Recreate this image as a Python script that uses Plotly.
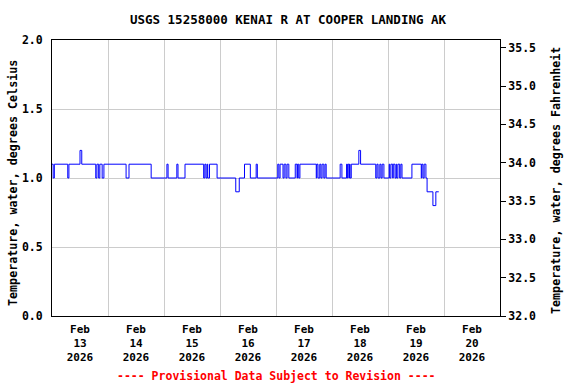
import plotly.graph_objects as go

# Water temperature change points (time, degrees C)
times = [
    "2026-02-13 00:00", "2026-02-13 00:30", "2026-02-13 01:00", "2026-02-13 06:45", "2026-02-13 07:15",
    "2026-02-13 12:00", "2026-02-13 12:45", "2026-02-13 18:45", "2026-02-13 19:15", "2026-02-13 20:00",
    "2026-02-13 20:30", "2026-02-13 21:30", "2026-02-13 22:15", "2026-02-14 07:45", "2026-02-14 09:00",
    "2026-02-14 18:30", "2026-02-15 01:15", "2026-02-15 01:45", "2026-02-15 05:30", "2026-02-15 06:00",
    "2026-02-15 09:00", "2026-02-15 17:00", "2026-02-15 17:30", "2026-02-15 18:00", "2026-02-15 18:30",
    "2026-02-15 18:45", "2026-02-15 19:30", "2026-02-15 22:45", "2026-02-16 06:45", "2026-02-16 08:15",
    "2026-02-16 10:30", "2026-02-16 13:00", "2026-02-16 15:30", "2026-02-16 16:00", "2026-02-17 00:45",
    "2026-02-17 01:15", "2026-02-17 01:45", "2026-02-17 03:00", "2026-02-17 03:30", "2026-02-17 04:15",
    "2026-02-17 04:45", "2026-02-17 05:30", "2026-02-17 08:15", "2026-02-17 09:00", "2026-02-17 09:15",
    "2026-02-17 09:45", "2026-02-17 10:15", "2026-02-17 17:15", "2026-02-17 17:30", "2026-02-17 18:00",
    "2026-02-17 18:45", "2026-02-17 19:15", "2026-02-17 19:45", "2026-02-17 20:30", "2026-02-17 21:00",
    "2026-02-17 21:30", "2026-02-18 03:30", "2026-02-18 04:15", "2026-02-18 06:15", "2026-02-18 06:30",
    "2026-02-18 06:45", "2026-02-18 07:15", "2026-02-18 07:30", "2026-02-18 07:45", "2026-02-18 08:15",
    "2026-02-18 11:30", "2026-02-18 12:15", "2026-02-18 18:45", "2026-02-18 19:15", "2026-02-18 19:45",
    "2026-02-18 20:30", "2026-02-18 21:00", "2026-02-18 21:30", "2026-02-18 22:15", "2026-02-19 00:30",
    "2026-02-19 00:45", "2026-02-19 01:15", "2026-02-19 02:00", "2026-02-19 02:15", "2026-02-19 03:00",
    "2026-02-19 03:30", "2026-02-19 03:45", "2026-02-19 04:15", "2026-02-19 05:00", "2026-02-19 05:30",
    "2026-02-19 06:00", "2026-02-19 10:15", "2026-02-19 14:15", "2026-02-19 14:30", "2026-02-19 15:00",
    "2026-02-19 15:30", "2026-02-19 16:15", "2026-02-19 16:45", "2026-02-19 19:15", "2026-02-19 20:30",
    "2026-02-19 21:45",
]
temps_c = [
    1.1, 1.0, 1.1, 1.0, 1.1,
    1.2, 1.1, 1.0, 1.1, 1.0,
    1.1, 1.0, 1.1, 1.0, 1.1,
    1.0, 1.1, 1.0, 1.1, 1.0,
    1.1, 1.0, 1.1, 1.0, 1.1,
    1.0, 1.1, 1.0, 0.9, 1.0,
    1.1, 1.0, 1.1, 1.0, 1.1,
    1.0, 1.1, 1.0, 1.1, 1.0,
    1.1, 1.0, 1.1, 1.0, 1.1,
    1.0, 1.1, 1.0, 1.1, 1.0,
    1.1, 1.0, 1.1, 1.0, 1.1,
    1.0, 1.1, 1.0, 1.1, 1.0,
    1.1, 1.0, 1.1, 1.0, 1.1,
    1.2, 1.1, 1.0, 1.1, 1.0,
    1.1, 1.0, 1.1, 1.0, 1.1,
    1.0, 1.1, 1.0, 1.1, 1.0,
    1.1, 1.0, 1.1, 1.0, 1.1,
    1.0, 1.1, 1.0, 1.1, 1.0,
    1.1, 1.0, 0.9, 0.8, 0.9,
    0.9,
]

day_starts = ["2026-02-13", "2026-02-14", "2026-02-15", "2026-02-16",
              "2026-02-17", "2026-02-18", "2026-02-19", "2026-02-20", "2026-02-21"]
label_times = ["2026-02-13 12:00", "2026-02-14 12:00", "2026-02-15 12:00", "2026-02-16 12:00",
               "2026-02-17 12:00", "2026-02-18 12:00", "2026-02-19 12:00", "2026-02-20 12:00"]
month_labels = ["Feb"] * 8
day_labels = ["13", "14", "15", "16", "17", "18", "19", "20"]
year_labels = ["2026"] * 8
c_ticks = [0.0, 0.5, 1.0, 1.5, 2.0]
f_ticks = [32.0, 32.5, 33.0, 33.5, 34.0, 34.5, 35.0, 35.5]

temps_f = [c * 1.8 + 32 for c in temps_c]

FONT = "DejaVu Sans Mono"
xrange = ["2026-02-13 00:00", "2026-02-21 00:00"]
TICKFONT = dict(family=FONT, size=11.5, color="black", weight="bold")
XLABELFONT = dict(family=FONT, size=11, color="black", weight="bold")

fig = go.Figure()
fig.add_trace(go.Scatter(x=times, y=temps_c, mode="lines", line=dict(color="#0000ff", width=1, shape="hv"),
                         xaxis="x", yaxis="y", showlegend=False, hoverinfo="skip"))
fig.add_trace(go.Scatter(x=times, y=temps_f, mode="lines", line=dict(color="rgba(0,0,0,0)", width=0, shape="hv"),
                         xaxis="x2", yaxis="y2", showlegend=False, hoverinfo="skip"))
for ax in ["x3", "x4"]:
    fig.add_trace(go.Scatter(x=times, y=temps_c, mode="lines", line=dict(color="rgba(0,0,0,0)", width=0),
                             xaxis=ax, yaxis="y", showlegend=False, hoverinfo="skip"))


def label_axis(texts, standoff):
    return dict(range=xrange, type="date", overlaying="x", side="bottom", tickmode="array",
                tickvals=label_times, ticktext=texts, ticks="", showgrid=False, showline=False,
                automargin=False, ticklabelstandoff=standoff, tickfont=XLABELFONT, zeroline=False)


fig.update_layout(
    width=576, height=384,
    margin=dict(l=52, r=76, t=40, b=68),
    paper_bgcolor="white", plot_bgcolor="white",
    font=dict(family=FONT, size=11, color="black", weight="bold"),
    title=dict(text="USGS 15258000 KENAI R AT COOPER LANDING AK", x=0.5, xref="container", xanchor="center",
               y=1 - 20 / 384, yref="container", yanchor="middle",
               font=dict(family=FONT, size=12.5, color="black", weight="bold")),
    xaxis=dict(range=xrange, type="date", tickmode="array", tickvals=day_starts, showticklabels=False,
               ticks="", showgrid=True, gridcolor="#cccccc", gridwidth=1, automargin=False,
               showline=True, linecolor="black", linewidth=1, mirror=True, zeroline=False),
    xaxis2=label_axis(month_labels, 5),
    xaxis3=label_axis(day_labels, 19),
    xaxis4=label_axis(year_labels, 33),
    yaxis=dict(range=[0, 2], tickmode="array", tickvals=c_ticks, tickformat=".1f", ticks="",
               showgrid=True, gridcolor="#cccccc", gridwidth=1, zeroline=False, automargin=False,
               showline=True, linecolor="black", linewidth=1, mirror=True,
               ticklabelstandoff=6, tickfont=TICKFONT),
    yaxis2=dict(range=[32, 35.6], overlaying="y", side="right", tickmode="array", tickvals=f_ticks,
                tickformat=".1f", ticks="outside", ticklen=5, tickcolor="black", showgrid=False,
                zeroline=False, showline=True, linecolor="black", linewidth=1, automargin=False,
                tickfont=TICKFONT),
    annotations=[
        dict(text="Temperature, water, degrees Celsius", xref="paper", yref="paper",
             x=(13 - 52) / 448, y=(316 - 183) / 276, xanchor="center", yanchor="middle",
             textangle=-90, showarrow=False, font=dict(family=FONT, size=11.7, weight="bold")),
        dict(text="Temperature, water, degrees Fahrenheit", xref="paper", yref="paper",
             x=(556 - 52) / 448, y=(316 - 181) / 276, xanchor="center", yanchor="middle",
             textangle=-90, showarrow=False, font=dict(family=FONT, size=11.7, weight="bold")),
        dict(text="---- Provisional Data Subject to Revision ----", xref="paper", yref="paper",
             x=0.5, y=-(376 - 316) / 276, xanchor="center", yanchor="middle", showarrow=False,
             font=dict(family=FONT, size=11.5, color="#ff0000", weight="bold")),
    ],
)

fig.write_html("out.html")
